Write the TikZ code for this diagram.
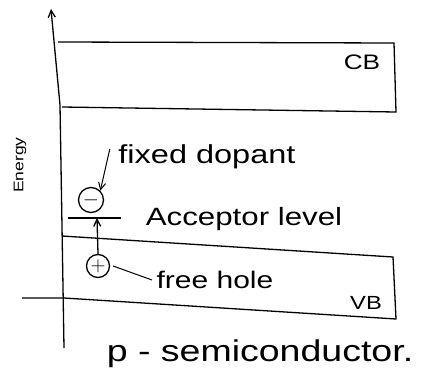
\documentclass[tikz,border=0pt]{standalone}
\usepackage{fontspec}
\setmainfont{Liberation Sans}[FakeStretch=1.25]
\usetikzlibrary{arrows.meta}
\begin{document}
\begin{tikzpicture}[x=1pt,y=-1pt,line width=1.3pt,
  lbl/.style={inner sep=0pt,anchor=center},
  charge/.style={circle,draw,line width=1.3pt,minimum size=25pt,inner sep=0pt,font=\fontsize{22}{22}\selectfont},
  tip/.style={-{Straight Barb[length=7pt,width=7pt]}}]
\useasboundingbox (0,0) rectangle (430,385);
% energy axis
\coordinate (axbot) at (64,348);
\coordinate (axmid) at (60,105);
\coordinate (axtop) at (51,9);
\draw[tip] (axbot) -- (axmid) -- (axtop);
\node[lbl,rotate=90,font=\fontsize{14}{14}\selectfont] (energy) at (20,165) {Energy};
% conduction band
\coordinate (cb1) at (58,42);
\coordinate (cb2) at (394,43);
\coordinate (cb3) at (396,112);
\coordinate (cb4) at (62,107);
\draw (cb1) -- (cb2) -- (cb3) -- (cb4);
\node[lbl,font=\fontsize{21}{21}\selectfont] (cb) at (362,62) {CB};
% valence band
\coordinate (vb1) at (62,236);
\coordinate (vb2) at (393,257);
\coordinate (vb3) at (396,319);
\coordinate (vb4) at (64,298);
\coordinate (vb5) at (22,298);
\draw (vb1) -- (vb2) -- (vb3) -- (vb4) -- (vb5);
\node[lbl,font=\fontsize{19}{19}\selectfont] (vb) at (366,303) {VB};
% acceptor level
\coordinate (acl) at (68,218);
\coordinate (acr) at (121,218);
\draw (acl) -- (acr);
\coordinate (acm) at (97,218);
\node[lbl,font=\fontsize{25}{25}\selectfont] (acctxt) at (244,219) {Acceptor level};
% fixed dopant
\node[charge] (minus) at (91,200) {$-$};
\node[lbl,font=\fontsize{26}{26}\selectfont] (dopant) at (207,157) {fixed dopant};
\draw[tip,line width=1pt] (dopant.west) ++(-8,-8) coordinate (dstart) (dstart) -- (minus.north east);
% free hole
\node[charge,minimum size=23pt] (plus) at (98,266) {$+$};
\draw[tip] (plus.north) -- (acm);
\node[lbl,font=\fontsize{24}{24}\selectfont] (hole) at (215,280) {free hole};
\draw[line width=1pt] (plus.east) ++(3,0) coordinate (hstart) (hstart) -- ([xshift=-4pt]hole.west);
% caption
\node[lbl,font=\fontsize{30}{30}\selectfont] (cap) at (260,354) {p - semiconductor.};
\end{tikzpicture}
\end{document}
